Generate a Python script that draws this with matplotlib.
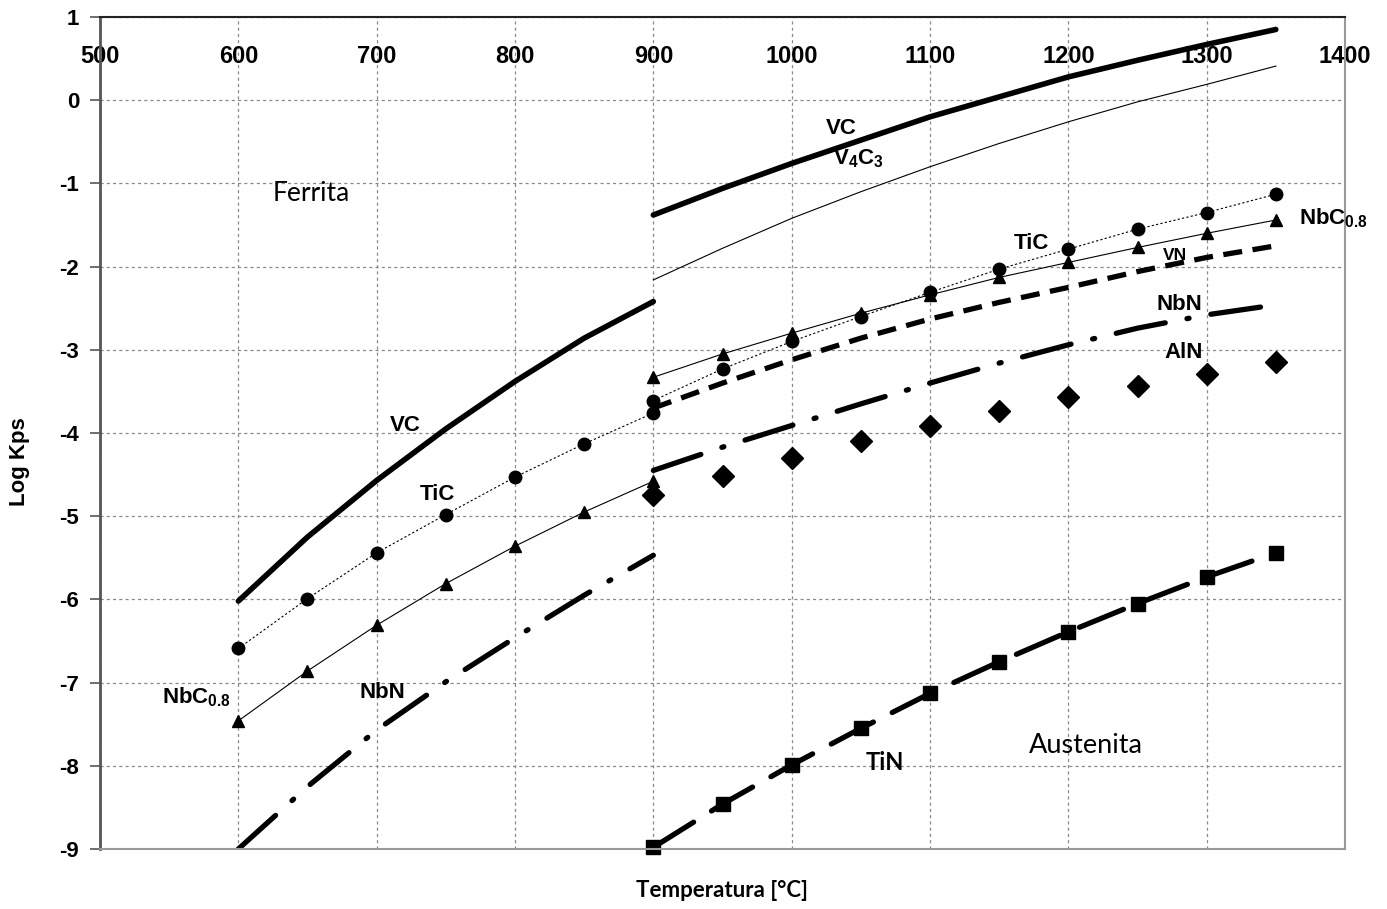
import matplotlib
matplotlib.use("Agg")
import matplotlib.pyplot as plt

# ---------------- data ----------------
T_fer = [600, 650, 700, 750, 800, 850, 900]
T_aus = [900, 950, 1000, 1050, 1100, 1150, 1200, 1250, 1300, 1350]

VC_fer = [-6.02, -5.25, -4.57, -3.95, -3.38, -2.86, -2.42]
VC_aus = [-1.38, -1.06, -0.76, -0.48, -0.20, 0.04, 0.28, 0.48, 0.67, 0.85]
V4C3_aus = [-2.16, -1.78, -1.42, -1.10, -0.80, -0.52, -0.26, -0.02, 0.19, 0.41]
TiC_fer = [-6.59, -5.99, -5.44, -4.98, -4.53, -4.13, -3.76]
TiC_aus = [-3.61, -3.23, -2.90, -2.60, -2.31, -2.03, -1.79, -1.55, -1.35, -1.13]
NbC_fer = [-7.46, -6.86, -6.31, -5.81, -5.36, -4.95, -4.58]
NbC_aus = [-3.33, -3.05, -2.80, -2.56, -2.34, -2.13, -1.95, -1.77, -1.60, -1.44]
VN_aus = [-3.70, -3.40, -3.12, -2.86, -2.63, -2.43, -2.25, -2.06, -1.89, -1.75]
NbN_fer = [-9.0, -8.25, -7.57, -6.99, -6.46, -5.95, -5.47]
NbN_aus = [-4.45, -4.17, -3.91, -3.65, -3.40, -3.16, -2.94, -2.74, -2.58, -2.46]
AlN_aus = [-4.75, -4.52, -4.30, -4.10, -3.91, -3.74, -3.57, -3.43, -3.29, -3.15]
TiN_aus = [-8.98, -8.46, -7.99, -7.55, -7.13, -6.75, -6.39, -6.05, -5.73, -5.44]

x_ticks = [500, 600, 700, 800, 900, 1000, 1100, 1200, 1300, 1400]
y_ticks = [1, 0, -1, -2, -3, -4, -5, -6, -7, -8, -9]

# ---------------- style ----------------
plt.rcParams['font.family'] = ['Liberation Sans', 'DejaVu Sans']
plt.rcParams['mathtext.default'] = 'regular'
plt.rcParams['axes.unicode_minus'] = False

fig = plt.figure(figsize=(13.87, 9.09), dpi=100)
ax = fig.add_axes([100/1387, 1-849/909, (1345-100)/1387, (849-17)/909])

ax.set_xlim(500, 1400)
ax.set_ylim(-9, 1)
ax.set_xticks(x_ticks)
ax.set_yticks(y_ticks)

ax.grid(True, color='#8a8a8a', linestyle=(0, (2.5, 2.5)), linewidth=0.9)
ax.set_axisbelow(True)

for s in ['bottom', 'right']:
    ax.spines[s].set_color('#9a9a9a')
    ax.spines[s].set_linewidth(1.5)
ax.spines['left'].set_color('#555555')
ax.spines['left'].set_linewidth(2.0)
ax.spines['top'].set_color('#222222')
ax.spines['top'].set_linewidth(1.5)

ax.tick_params(axis='x', top=True, bottom=False, labeltop=True, labelbottom=False,
               direction='in', length=0, pad=-37, labelsize=17)
ax.tick_params(axis='y', direction='out', length=7, width=1.2, color='#555555',
               labelsize=16, pad=8)
for lab in ax.get_xticklabels() + ax.get_yticklabels():
    lab.set_fontweight('bold')

k = 'black'
# VC
ax.plot(T_fer, VC_fer, color=k, lw=4.0, solid_capstyle='round')
ax.plot(T_aus, VC_aus, color=k, lw=4.0, solid_capstyle='round')
# V4C3
ax.plot(T_aus, V4C3_aus, color=k, lw=0.8)
# TiC
ax.plot(T_fer, TiC_fer, color=k, lw=0.8, linestyle=(0, (2, 2)), marker='o', ms=9)
ax.plot(T_aus, TiC_aus, color=k, lw=0.8, linestyle=(0, (2, 2)), marker='o', ms=9)
# NbC0.8
ax.plot(T_fer, NbC_fer, color=k, lw=0.8, marker='^', ms=9)
ax.plot(T_aus, NbC_aus, color=k, lw=0.8, marker='^', ms=9)
# VN
ax.plot(T_aus, VN_aus, color=k, lw=3.8, linestyle=(0, (3.6, 2.0)))
# NbN
nbn_ls = (0, (9.5, 4.2, 0.4, 4.2))
ax.plot(T_fer, NbN_fer, color=k, lw=3.8, linestyle=nbn_ls, dash_capstyle='round')
ax.plot(T_aus, NbN_aus, color=k, lw=3.8, linestyle=nbn_ls, dash_capstyle='round')
# AlN
ax.plot(T_aus, AlN_aus, color=k, linestyle='none', marker='D', ms=11)
# TiN
ax.plot(T_aus, TiN_aus, color=k, lw=3.8, linestyle=(0, (9, 4)), dash_capstyle='round',
        marker='s', ms=10, clip_on=False)

# ---------------- labels ----------------
bold = dict(fontweight='bold', fontsize=16, ha='center', va='center')
cal = ['Lato', 'DejaVu Sans']

ax.text(653, -1.12, 'Ferrita', family=cal, fontsize=19, ha='center', va='center')
ax.text(1213, -7.75, 'Austenita', family=cal, fontsize=19.5, ha='center', va='center')
ax.text(1067, -7.96, 'TiN', family=cal, fontsize=17, fontweight='bold', ha='center', va='center')

ax.text(721, -3.91, 'VC', **bold)
ax.text(744, -4.74, 'TiC', **bold)
ax.text(570, -7.18, r'NbC$_{0.8}$', **bold)
ax.text(704, -7.12, 'NbN', **bold)
ax.text(1036, -0.34, 'VC', **bold)
ax.text(1048, -0.70, r'V$_{4}$C$_{3}$', **bold)
ax.text(1173, -1.72, 'TiC', **bold)
ax.text(1392, -1.42, r'NbC$_{0.8}$', **bold)
ax.text(1277, -1.87, 'VN', fontweight='bold', fontsize=12.5, ha='center', va='center')
ax.text(1280, -2.46, 'NbN', **bold)
ax.text(1283, -3.03, 'AlN', **bold)

ax.set_xlabel('Temperatura [°C]', family=cal, fontsize=16, fontweight='bold', labelpad=22)
ax.set_ylabel('Log Kps', fontsize=16, fontweight='bold', labelpad=12)
ax.yaxis.set_label_coords(-0.056, 0.465)

fig.savefig('out.png', dpi=100)
